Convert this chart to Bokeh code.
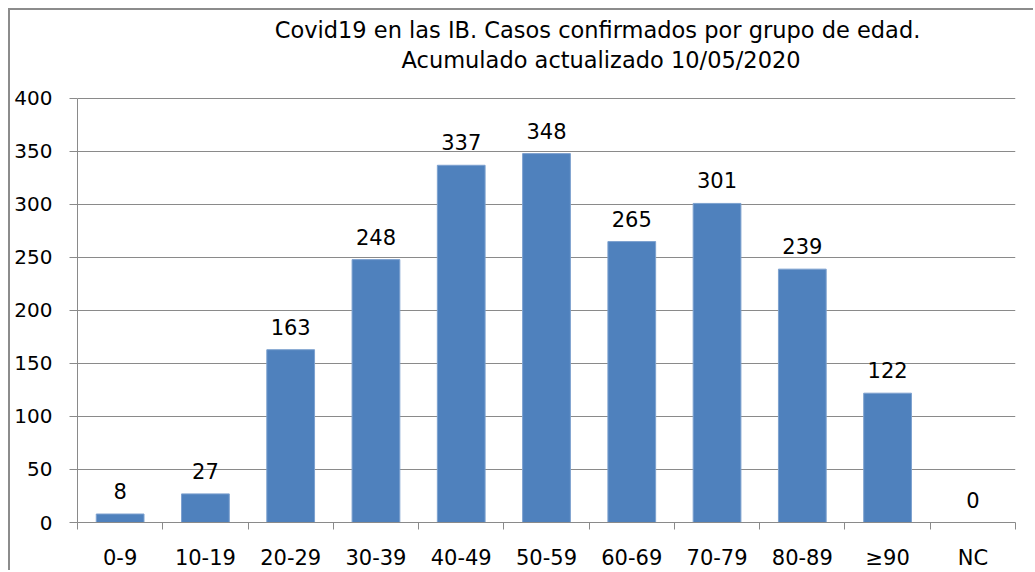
from bokeh.plotting import figure
from bokeh.models import ColumnDataSource, FixedTicker, LabelSet, Label, Range1d
from bokeh.core.properties import value
from bokeh.embed import file_html
from bokeh.resources import INLINE

categories = ["0-9", "10-19", "20-29", "30-39", "40-49", "50-59",
              "60-69", "70-79", "80-89", "≥90", "NC"]
cases = [8, 27, 163, 248, 337, 348, 265, 301, 239, 122, 0]
y_ticks = [0, 50, 100, 150, 200, 250, 300, 350, 400]
title_line1 = "Covid19 en las IB.  Casos confirmados por grupo de edad."
title_line2 = "Acumulado actualizado 10/05/2020"

FONT = "DejaVu Sans"
GRID = "#8a8a8a"

xs = list(range(len(categories)))
source = ColumnDataSource(dict(x=xs, top=cases, label=[str(v) for v in cases]))

# extra headroom above 400 holds the two-line title inside the frame
p = figure(width=1025, height=562, output_backend="svg", toolbar_location=None,
           x_range=Range1d(-0.5, len(categories) - 0.5),
           y_range=Range1d(y_ticks[0], 483),
           min_border_left=67, min_border_right=20,
           min_border_top=0, min_border_bottom=48)
p.styles = {"margin-left": "8px", "margin-top": "8px",
            "border-left": "2px solid #8c8c8c", "border-top": "2px solid #8c8c8c"}
p.outline_line_color = None
p.background_fill_color = "white"
p.border_fill_color = "white"

p.vbar(x="x", top="top", width=0.56, source=source,
       fill_color="#4F81BD", line_color="#7da1cf", line_width=1)

labels = LabelSet(x="x", y="top", text="label", source=source,
                  text_align="center", text_baseline="alphabetic",
                  y_offset=15, text_font=value(FONT), text_font_size="21px",
                  text_color="black")
p.add_layout(labels)

# x axis: tick marks sit on the category boundaries
p.xaxis.ticker = FixedTicker(ticks=xs, minor_ticks=[i - 0.5 for i in range(len(categories) + 1)])
p.xaxis.major_label_overrides = {i: c for i, c in enumerate(categories)}
p.xaxis.major_tick_line_color = None
p.xaxis.major_tick_out = 0
p.xaxis.major_tick_in = 0
p.xaxis.minor_tick_out = 7
p.xaxis.minor_tick_in = 0
p.xaxis.minor_tick_line_color = GRID
p.xaxis.axis_line_color = GRID
p.xaxis.major_label_standoff = 16
p.xaxis.major_label_text_font = FONT
p.xaxis.major_label_text_font_size = "21px"
p.xaxis.major_label_text_color = "black"
p.xgrid.grid_line_color = None

# y axis
p.yaxis.ticker = FixedTicker(ticks=y_ticks)
p.yaxis.bounds = (y_ticks[0], y_ticks[-1])
p.yaxis.minor_tick_line_color = None
p.yaxis.major_tick_out = 8
p.yaxis.major_tick_in = 0
p.yaxis.major_tick_line_color = GRID
p.yaxis.axis_line_color = GRID
p.yaxis.major_label_standoff = 17
p.yaxis.major_label_text_font = FONT
p.yaxis.major_label_text_font_size = "20px"
p.yaxis.major_label_text_color = "black"
p.ygrid.grid_line_color = GRID
p.ygrid.grid_line_width = 1

for txt, ty in ((title_line1, 464.5), (title_line2, 436)):
    p.add_layout(Label(x=5.64, y=ty, text=txt,
                       text_align="center", text_baseline="alphabetic",
                       text_font=FONT, text_font_size="22.5px", text_color="black"))

open("out.html", "w").write(file_html(p, INLINE))
